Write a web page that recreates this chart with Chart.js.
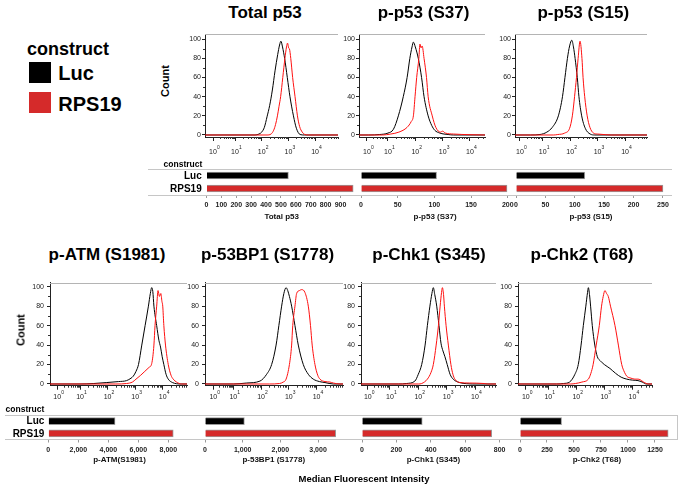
<!DOCTYPE html>
<html>
<head>
<meta charset="utf-8">
<script src="https://cdn.jsdelivr.net/npm/chart.js@4.4.1/dist/chart.umd.min.js"></script>
<style>
body { margin: 0; background: #fff; width: 681px; height: 488px; position: relative; overflow: hidden;
       font-family: Arial, "Liberation Sans", Helvetica, sans-serif; }
.t { position: absolute; font-weight: bold; color: #000; white-space: nowrap; }
canvas { position: absolute; }
.ln { position: absolute; background: #c6c6c6; }
.sq { position: absolute; }
</style>
</head>
<body>
<script>
// ---- data ----
const constructs = ['Luc', 'RPS19'];
const markers = ['Total p53', 'p-p53 (S37)', 'p-p53 (S15)', 'p-ATM (S1981)', 'p-53BP1 (S1778)', 'p-Chk1 (S345)', 'p-Chk2 (T68)'];
const barTitles = ['Total p53', 'p-p53 (S37)', 'p-p53 (S15)', 'p-ATM(S1981)', 'p-53BP1 (S1778)', 'p-Chk1 (S345)', 'p-Chk2 (T68)'];

// median fluorescent intensity
const mfiLuc   = [550, 103, 117, 4450, 1045, 350, 385];
const mfiRPS19 = [985, 199, 250, 8330, 3470, 754, 1372];

// tick labels of the median axes
const mfiTicks = [
  [0, 100, 200, 300, 400, 500, 600, 700, 800, 900],
  [0, 50, 100, 150, 200],
  [0, 50, 100, 150, 200, 250],
  [0, 2000, 4000, 6000, 8000],
  [0, 1000, 2000, 3000],
  [0, 200, 400, 600, 800],
  [0, 250, 500, 750, 1000, 1250]
];

// histogram x positions are in decades (10^k -> k)
const exponents = ['0', '1', '2', '3', '4'];
const countTicks = [0, 20, 40, 60, 80, 100];

const lucTotalP53 = [[-0.125,0],[1.75,0],[1.9,1],[2.0,3],[2.1,8],[2.2,19],[2.3,31],[2.4,47],[2.5,67],[2.6,84],[2.67,94],[2.72,98],[2.78,92],[2.86,80],[2.96,60],[3.06,40],[3.19,20],[3.3,7],[3.44,0.5],[3.6,0],[4.86,0]];
const rpsTotalP53 = [[-0.125,0],[2.2,0],[2.35,1],[2.45,5],[2.52,11],[2.59,20],[2.65,30],[2.71,40],[2.79,60],[2.87,80],[2.93,92],[2.97,96],[3.01,91],[3.04,90],[3.09,80],[3.16,60],[3.25,40],[3.34,20],[3.42,9],[3.52,3],[3.62,0.5],[3.75,0],[4.86,0]];

const lucS37 = [[-0.06,22],[-0.045,0],[0.3,0],[0.7,0.5],[1.0,2],[1.2,6],[1.38,20],[1.56,40],[1.70,60],[1.80,80],[1.88,92],[1.93,97],[2.0,92],[2.11,80],[2.23,60],[2.32,40],[2.47,20],[2.6,10],[2.71,5],[2.9,2],[3.2,0.5],[3.4,0],[4.55,0]];
const rpsS37 = [[-0.06,0],[0.8,0],[1.1,1],[1.4,3],[1.7,8],[1.85,14],[1.93,20],[1.99,40],[2.05,60],[2.13,80],[2.17,95],[2.21,91],[2.25,93],[2.32,80],[2.41,60],[2.47,40],[2.62,20],[2.75,8],[2.92,3],[3.0,4],[3.1,2],[3.4,1],[4.0,0.3],[4.55,0]];

const lucS15 = [[-0.01,4],[0.01,0],[0.55,0],[0.9,0.5],[1.15,3],[1.35,8],[1.57,20],[1.72,40],[1.81,60],[1.90,80],[1.98,93],[2.06,99],[2.12,92],[2.18,80],[2.26,60],[2.32,40],[2.42,20],[2.55,7],[2.73,1],[2.9,0],[4.8,0]];
const rpsS15 = [[-0.01,0],[1.4,0],[1.55,0.5],[1.8,2],[1.98,7],[2.08,20],[2.16,40],[2.23,60],[2.29,80],[2.36,98],[2.43,80],[2.47,60],[2.53,40],[2.62,20],[2.72,8],[2.85,2],[3.0,1],[3.3,0.3],[3.5,0],[4.8,0]];

const lucATM = [[-0.09,0],[1.0,0],[1.5,0.5],[1.97,1.5],[2.4,2.5],[2.69,3.5],[2.85,6],[2.93,8],[3.03,13],[3.12,20],[3.24,40],[3.36,60],[3.48,80],[3.55,93],[3.60,99],[3.64,95],[3.68,80],[3.78,60],[3.86,45],[3.92,38],[3.98,28],[4.04,20],[4.12,10],[4.2,5],[4.35,1.5],[4.5,0.3],[4.6,0],[4.88,0]];
const rpsATM = [[-0.09,0],[2.3,0],[2.69,0.5],[2.9,2],[3.03,5],[3.2,9],[3.35,13],[3.5,17],[3.60,21],[3.68,40],[3.72,60],[3.78,80],[3.83,96],[3.88,90],[3.93,93],[3.97,85],[4.0,80],[4.04,60],[4.10,40],[4.20,20],[4.3,9],[4.38,5],[4.5,2],[4.68,0],[4.88,0]];

const luc53BP1 = [[-0.02,0],[1.0,0],[1.48,1],[1.96,3],[2.2,10],[2.38,20],[2.54,40],[2.64,60],[2.74,80],[2.82,93],[2.90,99],[2.96,96],[3.02,90],[3.10,80],[3.22,60],[3.34,40],[3.52,20],[3.7,10],[3.88,5],[4.1,2.5],[4.3,1.5],[4.6,0],[4.95,0]];
const rps53BP1 = [[-0.02,0],[2.3,0],[2.66,0.5],[2.80,2],[2.90,5],[3.02,20],[3.10,40],[3.14,60],[3.22,80],[3.28,93],[3.38,96],[3.46,97],[3.58,94],[3.70,80],[3.78,60],[3.84,40],[3.94,20],[4.04,9],[4.12,5],[4.3,2.5],[4.48,2],[4.6,1],[4.84,0],[4.95,0]];

const lucChk1 = [[-0.02,3],[0.0,0],[1.3,0],[1.59,0.5],[1.88,3],[2.0,10],[2.12,20],[2.24,40],[2.32,60],[2.41,80],[2.48,93],[2.53,99],[2.58,92],[2.65,80],[2.73,60],[2.80,42],[2.87,34],[2.94,28],[3.02,20],[3.12,10],[3.23,5],[3.45,1.5],[3.71,0.3],[3.9,0],[4.74,0]];
const rpsChk1 = [[-0.02,0],[2.0,0],[2.12,0.5],[2.32,5],[2.45,12],[2.53,20],[2.63,40],[2.71,60],[2.77,80],[2.82,94],[2.85,99],[2.89,92],[2.92,80],[2.98,60],[3.06,40],[3.15,20],[3.22,10],[3.29,5],[3.47,1.5],[3.8,1],[4.32,0.5],[4.45,0],[4.74,0]];

const lucChk2 = [[-0.08,0],[1.3,0],[1.54,0.5],[1.76,2],[1.95,10],[2.07,20],[2.17,40],[2.25,60],[2.34,80],[2.40,94],[2.43,99],[2.47,92],[2.51,80],[2.57,60],[2.66,40],[2.75,28],[2.85,24],[3.0,20],[3.2,16],[3.4,11],[3.6,7],[3.8,5],[4.0,4],[4.2,3.5],[4.35,2],[4.5,0],[4.70,0]];
const rpsChk2 = [[-0.08,0],[1.8,0],[1.97,0.5],[2.2,2],[2.43,5],[2.52,11],[2.60,20],[2.71,40],[2.82,60],[2.90,80],[2.96,90],[3.02,96],[3.08,93],[3.14,90],[3.22,80],[3.38,60],[3.50,40],[3.62,20],[3.72,12],[3.80,8],[3.95,6],[4.09,5],[4.2,5],[4.27,4.5],[4.4,2],[4.57,0],[4.70,0]];

const histLuc = [lucTotalP53, lucS37, lucS15, lucATM, luc53BP1, lucChk1, lucChk2];
const histRPS = [rpsTotalP53, rpsS37, rpsS15, rpsATM, rps53BP1, rpsChk1, rpsChk2];

// ---- layout ----
const FONT = 'Arial, "Liberation Sans", Helvetica, sans-serif';
const BLACK = '#000000', RED = '#d52a2a';

const top1 = {T: 34, B: 137, yMin: -2.1, yMax: 105.5, labY: 15, yPad: 1};
const bot1 = {T: 282.7, B: 385.7, yMin: -1.75, yMax: 104.1, labY: 11, yPad: 3};
const histLayout = [
  Object.assign({L: 205, R: 338, xMin: -0.125, xMax: 4.86, zero: 0.175}, top1),
  Object.assign({L: 359, R: 485, xMin: -0.06, xMax: 4.55, zero: 0.23}, top1),
  Object.assign({L: 515, R: 647, xMin: -0.01, xMax: 4.8, zero: 0.17}, top1),
  Object.assign({L: 50, R: 187, xMin: -0.09, xMax: 4.88, zero: 0.17}, bot1),
  Object.assign({L: 205, R: 343, xMin: -0.02, xMax: 4.95, zero: 0.28}, bot1),
  Object.assign({L: 361, R: 496, xMin: -0.02, xMax: 4.74, zero: 0.22}, bot1),
  Object.assign({L: 518, R: 652, xMin: -0.08, xMax: 4.70, zero: 0.20}, bot1)
];
const barLayout = [
  {L: 206.5, R: 356.9, max: 1010, T: 169, B: 195, xh: 26.5, comma: true},
  {L: 361, R: 509.2, max: 202, T: 169, B: 195, xh: 26.5, comma: true},
  {L: 516, R: 665.9, max: 255, T: 169, B: 195, xh: 26.5, comma: true},
  {L: 48.3, R: 190.8, max: 9500, T: 415, B: 439.5, xh: 25.3, comma: true},
  {L: 205, R: 342.5, max: 3650, T: 415, B: 439.5, xh: 25.3, comma: true},
  {L: 362, R: 504.8, max: 830, T: 415, B: 439.5, xh: 25.3, comma: true},
  {L: 520, R: 673.9, max: 1425, T: 415, B: 439.5, xh: 25.3, comma: false}
];

// ---- helpers ----
function text(str, x, y, size, align, rotate) {
  const d = document.createElement('div');
  d.className = 't';
  d.textContent = str;
  d.style.fontSize = size + 'px';
  d.style.lineHeight = size + 'px';
  if (rotate) {
    d.style.left = x + 'px'; d.style.top = y + 'px';
    d.style.transform = 'translate(-50%,-50%) rotate(-90deg)';
  } else {
    d.style.top = (y - size / 2) + 'px';
    if (align === 'center') { d.style.left = x + 'px'; d.style.transform = 'translateX(-50%)'; }
    else if (align === 'right') d.style.right = (681 - x) + 'px';
    else d.style.left = x + 'px';
  }
  document.body.appendChild(d);
}
function box(cls, x, y, w, h, color) {
  const d = document.createElement('div');
  d.className = cls;
  d.style.left = x + 'px'; d.style.top = y + 'px';
  d.style.width = w + 'px'; d.style.height = h + 'px';
  if (color) d.style.background = color;
  document.body.appendChild(d);
}
function frame(L, T, R, B, yw, xh, pad) {
  const left = Math.floor(L - yw - pad.l), top = Math.floor(T - pad.t);
  const w = Math.ceil(R + pad.r) - left, h = Math.ceil(B + xh + pad.b) - top;
  const c = document.createElement('canvas');
  c.width = w; c.height = h;
  c.style.left = left + 'px'; c.style.top = top + 'px';
  c.style.width = w + 'px'; c.style.height = h + 'px';
  document.body.appendChild(c);
  return {c, padding: {left: L - yw - left, top: T - top, right: left + w - R, bottom: top + h - B - xh}};
}

// minor ticks, top frame line and 10^k labels of the flow histograms
const ruler = {
  id: 'ruler',
  afterDraw(chart, args, o) {
    const {ctx, chartArea: a, scales: {x, y}} = chart;
    ctx.save();
    ctx.strokeStyle = '#333';
    ctx.lineWidth = 1;
    ctx.beginPath();
    for (let v = 10; v < 100; v += 20) {
      const py = Math.round(y.getPixelForValue(v)) + 0.5;
      ctx.moveTo(a.left - 2, py); ctx.lineTo(a.left, py);
    }
    for (let d = 0; d < 5; d++) {
      for (let k = 2; k < 10; k++) {
        const v = d === 0 ? o.zero + (1 - o.zero) * Math.log10(k) : d + Math.log10(k);
        if (v > x.max) continue;
        const px = Math.round(x.getPixelForValue(v)) + 0.5;
        ctx.moveTo(px, a.bottom); ctx.lineTo(px, a.bottom + 2);
      }
    }
    ctx.stroke();
    ctx.strokeStyle = '#b4b4b4';
    ctx.beginPath();
    ctx.moveTo(a.left, Math.round(a.top) + 0.5); ctx.lineTo(a.right, Math.round(a.top) + 0.5);
    ctx.stroke();
    ctx.fillStyle = '#222';
    ctx.textBaseline = 'middle';
    const ticks = [o.zero, 1, 2, 3, 4];
    ticks.forEach((v, i) => {
      const px = x.getPixelForValue(v);
      const py = a.bottom + o.labY;
      ctx.font = '7px ' + FONT;
      ctx.textAlign = 'center';
      ctx.fillText('10', px, py);
      ctx.font = '5px ' + FONT;
      ctx.textAlign = 'left';
      ctx.fillText(exponents[i], px + 4, py - 4);
    });
    ctx.restore();
  }
};

// ---- histograms ----
histLayout.forEach((p, i) => {
  const yw = 26, xh = 20;
  const f = frame(p.L, p.T, p.R, p.B, yw, xh, {l: 2, r: 4, t: 8, b: 2});
  const ticksX = [p.zero, 1, 2, 3, 4];
  new Chart(f.c, {
    type: 'line',
    data: {
      datasets: [
        {data: histRPS[i], borderColor: '#ff1010', borderWidth: 1, pointRadius: 0, cubicInterpolationMode: 'monotone'},
        {data: histLuc[i], borderColor: BLACK, borderWidth: 1, pointRadius: 0, cubicInterpolationMode: 'monotone'}
      ]
    },
    options: {
      responsive: false, animation: false, events: [],
      layout: {padding: f.padding},
      plugins: {legend: {display: false}, tooltip: {enabled: false}, ruler: {zero: p.zero, labY: p.labY}},
      scales: {
        x: {
          type: 'linear', min: p.xMin, max: p.xMax,
          afterBuildTicks: s => { s.ticks = ticksX.map(v => ({value: v})); },
          afterFit: s => { s.height = xh; },
          ticks: {display: false},
          grid: {display: true, drawOnChartArea: false, tickLength: 4, color: '#222'},
          border: {color: '#222'}
        },
        y: {
          min: p.yMin, max: p.yMax,
          afterBuildTicks: s => { s.ticks = countTicks.map(v => ({value: v})); },
          afterFit: s => { s.width = yw; },
          ticks: {font: {size: 7, family: FONT}, color: '#222', padding: p.yPad},
          grid: {display: true, drawOnChartArea: false, tickLength: 3, color: '#222'},
          border: {color: '#222'}
        }
      }
    },
    plugins: [ruler]
  });
});

// ---- median bars ----
barLayout.forEach((p, i) => {
  const f = frame(p.L, p.T, p.R, p.B, 0, p.xh, {l: 10, r: 10, t: 4, b: 2});
  new Chart(f.c, {
    type: 'bar',
    data: {
      labels: constructs,
      datasets: [{
        data: [mfiLuc[i], mfiRPS19[i]],
        backgroundColor: [BLACK, RED], borderColor: '#9a9a9a', borderWidth: 1, barThickness: 7
      }]
    },
    options: {
      indexAxis: 'y', responsive: false, animation: false, events: [],
      layout: {padding: f.padding},
      plugins: {legend: {display: false}, tooltip: {enabled: false}},
      scales: {
        y: {display: false},
        x: {
          min: 0, max: p.max,
          afterBuildTicks: s => { s.ticks = mfiTicks[i].map(v => ({value: v})); },
          afterFit: s => { s.height = p.xh; },
          grid: {display: true, drawOnChartArea: false, tickLength: 3, color: '#999'},
          border: {display: false},
          ticks: {
            autoSkip: false, maxRotation: 0,
            font: {size: 7, weight: 'bold', family: FONT}, color: '#222', padding: 3,
            callback: v => p.comma ? v.toLocaleString('en-US') : String(v)
          },
          title: {display: true, text: barTitles[i], font: {size: 8, weight: 'bold', family: FONT}, color: '#111', padding: 0}
        }
      }
    }
  });
});

// ---- text, lines, legend ----
const titlePos = [[265, 12.2], [423.5, 12.2], [583.3, 12.2], [107, 254.5], [267.5, 254.5], [429, 254.5], [582, 254.5]];
markers.forEach((m, i) => text(m, titlePos[i][0], titlePos[i][1], 17, 'center'));

text('Count', 165, 81, 11, null, true);
text('Count', 20.7, 330, 11, null, true);

box('ln', 148, 169, 524, 1);
box('ln', 148, 195, 524, 1);
box('ln', 5, 415, 672, 1);
box('ln', 5, 439, 672, 1);
box('ln', 677, 415, 1, 25);

text('construct', 202.3, 164, 8.5, 'right');
text(constructs[0], 201.7, 175.5, 10, 'right');
text(constructs[1], 201.7, 189.2, 10, 'right');
text('construct', 44.3, 409.2, 8.5, 'right');
text(constructs[0], 44.3, 420.5, 10, 'right');
text(constructs[1], 44.3, 433.8, 10, 'right');

text('Median Fluorescent Intensity', 364, 479, 9.5, 'center');

// legend
text('construct', 27, 48.6, 18, null);
box('sq', 29.3, 61.7, 21.7, 21, BLACK);
box('sq', 29.3, 91.7, 21.7, 21.6, RED);
text(constructs[0], 58.3, 73, 20, null);
text(constructs[1], 58.3, 104, 20, null);
</script>
</body>
</html>
